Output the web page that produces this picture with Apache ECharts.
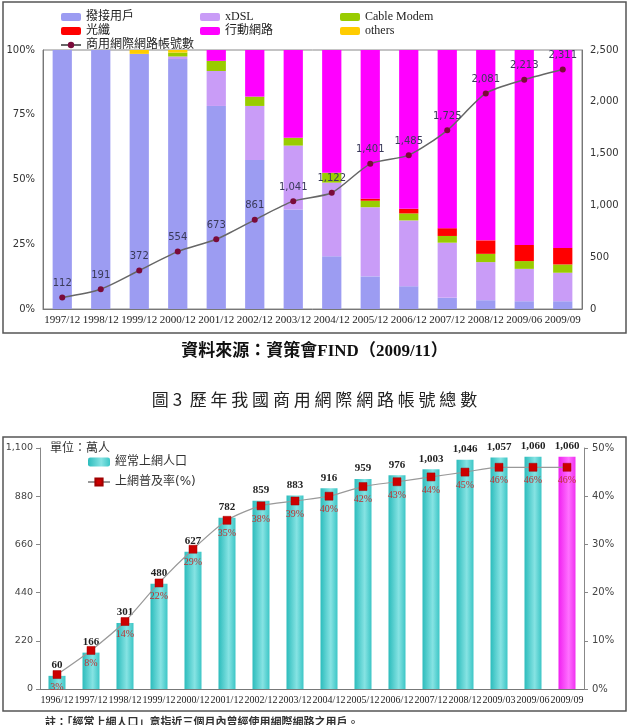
<!DOCTYPE html>
<html>
<head>
<meta charset="utf-8">
<script src="https://cdn.jsdelivr.net/npm/echarts@6/dist/echarts.min.js"></script>
<style>
html,body{margin:0;padding:0;background:#fff}
#main{width:629px;height:725px}
</style>
</head>
<body>
<div id="main"></div>
<script>
// 圖3 商用網際網路帳號：各類型比例(%) + 帳號數(萬)
const years1 = ['1997/12','1998/12','1999/12','2000/12','2001/12','2002/12','2003/12','2004/12','2005/12','2006/12','2007/12','2008/12','2009/06','2009/09'];
const dialup = [100,100,98.5,96.5,78.4,57.5,38.4,20.4,12.6,8.8,4.3,3.4,3,3];
const xdsl   = [0,0,0,1,13.5,20.9,24.7,28.4,26.7,25.4,21.3,14.7,12.5,11];
const cable  = [0,0,0,1.5,3.9,3.6,3,3.8,2.5,2.7,2.6,3.2,3,3.2];
const fiber  = [0,0,0,0,0,0,0,0,0.8,1.8,3,5.2,6.2,6.4];
const mobile = [0,0,0,0,4.2,18,33.9,47.4,57.4,61.3,68.8,73.5,75.3,76.4];
const others = [0,0,1.5,1,0,0,0,0,0,0,0,0,0,0];
const accounts = [112,191,372,554,673,861,1041,1122,1401,1485,1725,2081,2213,2311];

// 經常上網人口(萬人) + 上網普及率(%)
const years2 = ['1996/12','1997/12','1998/12','1999/12','2000/12','2001/12','2002/12','2003/12','2004/12','2005/12','2006/12','2007/12','2008/12','2009/03','2009/06','2009/09'];
const users = [60,166,301,480,627,782,859,883,916,959,976,1003,1046,1057,1060,1060];
const rate  = [3,8,14,22,29,35,38,39,40,42,43,44,45,46,46,46];

const chart = echarts.init(document.getElementById('main'));
const serif = 'Liberation Serif, Noto Sans CJK TC, serif';
const sans = 'DejaVu Sans, Noto Sans CJK TC, sans-serif';
const comma = v => Number(v).toLocaleString('en-US');

const teal = new echarts.graphic.LinearGradient(0, 0, 1, 0, [
  {offset: 0, color: '#2cbcbc'}, {offset: 0.6, color: '#86e3e3'}, {offset: 1, color: '#3cc6c6'}
]);
const pink = new echarts.graphic.LinearGradient(0, 0, 1, 0, [
  {offset: 0, color: '#f020f0'}, {offset: 0.6, color: '#ff70ff'}, {offset: 1, color: '#f030f0'}
]);

function stackBar(name, data, color) {
  return {
    name: name, type: 'bar', stack: 'share', barWidth: '50%',
    xAxisIndex: 0, yAxisIndex: 0, data: data,
    itemStyle: {color: color}
  };
}

const legendText = {fontFamily: serif, fontSize: 12, color: '#222', lineHeight: 14};

const option = {
  animation: false,
  legend: [
    {left: 55, top: 5, orient: 'vertical', itemWidth: 20, itemHeight: 8, itemGap: 0, textStyle: legendText,
      data: ['撥接用戶', '光纖', '商用網際網路帳號數']},
    {left: 195, top: 5, orient: 'vertical', itemWidth: 20, itemHeight: 8, itemGap: 0, textStyle: legendText,
      data: ['xDSL', '行動網路']},
    {left: 335, top: 5, orient: 'vertical', itemWidth: 20, itemHeight: 8, itemGap: 0, textStyle: legendText,
      data: ['Cable Modem', 'others']},
    {left: 82, top: 451, orient: 'vertical', itemWidth: 22, itemHeight: 9, itemGap: 8,
      textStyle: {fontFamily: sans, fontSize: 12, color: '#333'},
      data: ['經常上網人口', '上網普及率(%)']}
  ],
  grid: [
    {left: 43, right: 47, top: 50, height: 259, show: true, borderColor: '#888', borderWidth: 1},
    {left: 40, right: 45, top: 448, height: 241}
  ],
  xAxis: [
    {type: 'category', gridIndex: 0, data: years1,
      axisLine: {lineStyle: {color: '#777'}},
      axisTick: {lineStyle: {color: '#777'}, length: 4},
      axisLabel: {interval: 0, fontFamily: serif, fontSize: 11, color: '#222', margin: 6}},
    {type: 'category', gridIndex: 1, data: years2,
      axisLine: {lineStyle: {color: '#777'}},
      axisTick: {lineStyle: {color: '#777'}, length: 4},
      axisLabel: {interval: 0, fontFamily: serif, fontSize: 10, color: '#222', margin: 6}}
  ],
  yAxis: [
    {type: 'value', gridIndex: 0, min: 0, max: 100, interval: 25,
      axisLine: {show: true, lineStyle: {color: '#777'}}, axisTick: {show: false},
      splitLine: {show: false},
      axisLabel: {formatter: '{value}%', fontFamily: sans, fontSize: 10, color: '#333', margin: 8}},
    {type: 'value', gridIndex: 0, position: 'right', min: 0, max: 2500, interval: 500,
      axisLine: {show: true, lineStyle: {color: '#777'}}, axisTick: {show: false},
      splitLine: {show: false},
      axisLabel: {formatter: comma, fontFamily: sans, fontSize: 10, color: '#333', margin: 8}},
    {type: 'value', gridIndex: 1, min: 0, max: 1100, interval: 220,
      axisLine: {show: true, lineStyle: {color: '#888'}}, axisTick: {show: true, length: 4, lineStyle: {color: '#888'}},
      splitLine: {show: false},
      axisLabel: {formatter: comma, fontFamily: sans, fontSize: 9.5, color: '#444', margin: 7}},
    {type: 'value', gridIndex: 1, position: 'right', min: 0, max: 50, interval: 10,
      axisLine: {show: true, lineStyle: {color: '#888'}}, axisTick: {show: true, length: 4, lineStyle: {color: '#888'}},
      splitLine: {show: false},
      axisLabel: {formatter: '{value}%', fontFamily: sans, fontSize: 10, color: '#444', margin: 8}}
  ],
  series: [
    stackBar('撥接用戶', dialup, '#9c9cf2'),
    stackBar('xDSL', xdsl, '#c99cf7'),
    stackBar('Cable Modem', cable, '#99cc00'),
    stackBar('光纖', fiber, '#ff0000'),
    stackBar('行動網路', mobile, '#ff00ff'),
    stackBar('others', others, '#ffcc00'),
    {
      name: '商用網際網路帳號數', type: 'line', xAxisIndex: 0, yAxisIndex: 1,
      data: accounts, smooth: 0.25, symbol: 'circle', symbolSize: 6,
      lineStyle: {color: '#666', width: 1.5},
      itemStyle: {color: '#7a0a3a'},
      label: {show: true, position: 'top', distance: 6, formatter: p => comma(p.value),
        fontFamily: sans, fontSize: 10, color: '#3a3a5a'}
    },
    {
      name: '經常上網人口', type: 'bar', xAxisIndex: 1, yAxisIndex: 2, barWidth: '50%',
      data: users.map((v, i) => i === users.length - 1 ? {value: v, itemStyle: {color: pink}} : v),
      itemStyle: {color: teal},
      label: {show: true, position: 'top', distance: 5, formatter: p => comma(p.value),
        fontFamily: serif, fontSize: 11, fontWeight: 'bold', color: '#222'}
    },
    {
      name: '上網普及率(%)', type: 'line', xAxisIndex: 1, yAxisIndex: 3,
      data: rate, smooth: 0.25, symbol: 'rect', symbolSize: 8,
      lineStyle: {color: '#999', width: 1.2},
      itemStyle: {color: '#cc0000', borderColor: '#a00000', borderWidth: 0.5},
      label: {show: true, position: 'bottom', distance: 4, formatter: '{c}%',
        fontFamily: serif, fontSize: 10, color: '#c03030'}
    }
  ],
  graphic: [
    {type: 'rect', shape: {x: 3, y: 2, width: 623, height: 331}, style: {fill: 'none', stroke: '#555', lineWidth: 1.5}, silent: true},
    {type: 'rect', shape: {x: 3, y: 437, width: 623, height: 274}, style: {fill: 'none', stroke: '#555', lineWidth: 1.5}, silent: true},
    {type: 'text', left: 'center', top: 343,
      style: {text: '資料來源：資策會FIND（2009/11）', font: 'bold 17px Liberation Serif, Noto Sans CJK TC', fill: '#111'}},
    {type: 'text', left: 'center', top: 391,
      style: {text: '圖 3  歷 年 我 國 商 用 網 際 網 路 帳 號 總 數', font: '17px Noto Sans CJK TC', fill: '#222'}},
    {type: 'text', left: 50, top: 441,
      style: {text: '單位：萬人', font: '12px Noto Sans CJK TC', fill: '#333'}},
    {type: 'text', left: 45, top: 716,
      style: {text: '註：「經常上網人口」意指近三個月內曾經使用網際網路之用戶。', font: 'bold 11px Noto Sans CJK TC', fill: '#333'}}
  ]
};

chart.setOption(option);
</script>
</body>
</html>
